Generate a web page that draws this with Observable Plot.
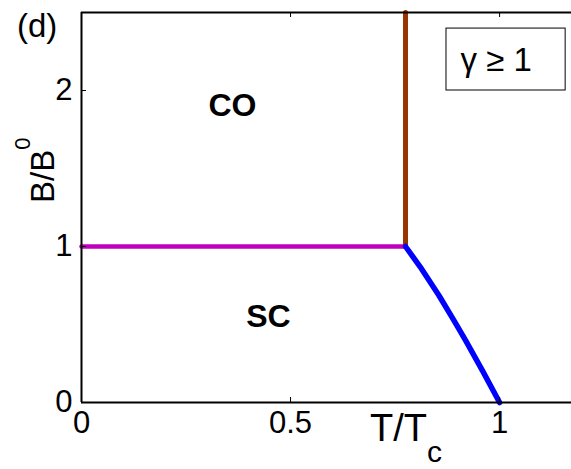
<!DOCTYPE html>
<html>
<head>
<meta charset="utf-8">
<script src="https://cdn.jsdelivr.net/npm/d3@7"></script>
<script src="https://cdn.jsdelivr.net/npm/@observablehq/plot@0.6"></script>
<style>
  html, body { margin: 0; padding: 0; background: #fff; }
  svg { display: block; }
</style>
</head>
<body>
<div id="chart"></div>
<script>
// ---- data ----
const xTicks = [0, 0.5, 1];
const xTickLabels = ["0", "0.5", "1"];
const yTicks = [0, 1, 2];
const yTickLabels = ["0", "1", "2"];

// CO/SC boundary (horizontal, B/B0 = 1) up to the triple point
const coScT = [0, 0.775];
const coScB = [1, 1];

// CO / normal boundary (vertical)
const coNormalT = [0.775, 0.775];
const coNormalB = [1, 2.5];

// SC / normal boundary
const scNormalT = [0.775, 0.81, 0.855, 0.89, 0.919, 0.96, 1.0];
const scNormalB = [1, 0.87, 0.686, 0.53, 0.397, 0.2, 0];

// region labels
const regionNames = ["CO", "SC"];
const regionT = [0.361, 0.447];
const regionB = [1.9, 0.55];

// legend box
const legendText = ["\u03b3 \u2265 1"];
const legendT = [0.992];
const legendB = [2.19];
const legendBoxT = [0.873, 1.158];
const legendBoxB = [2.0, 2.397];

// ---- build ----
const line = (xs, ys) => xs.map((x, i) => ({x, y: ys[i]}));
const regions = regionNames.map((n, i) => ({n, x: regionT[i], y: regionB[i]}));
const legend = legendText.map((t, i) => ({t, x: legendT[i], y: legendB[i]}));
const box = [{x1: legendBoxT[0], x2: legendBoxT[1], y1: legendBoxB[0], y2: legendBoxB[1]}];

const W = 571, H = 469, ML = 81, MR = 0, MT = 12, MB = 67;
const innerW = W - ML - MR, innerH = H - MT - MB;
const font = "'Liberation Sans', Arial, Helvetica, sans-serif";

const chart = Plot.plot({
  width: W, height: H,
  marginLeft: ML, marginRight: MR, marginTop: MT, marginBottom: MB,
  x: {domain: [0, 1.172], axis: null},
  y: {domain: [0, 2.5], axis: null},
  style: {fontFamily: font, background: "white", color: "black", overflow: "visible"},
  marks: [
    // phase boundaries
    Plot.line(line(coScT, coScB), {x: "x", y: "y", stroke: "#bf00bf", strokeWidth: 4.5}),
    Plot.line(line(coNormalT, coNormalB), {x: "x", y: "y", stroke: "#993300", strokeWidth: 5}),
    Plot.line(line(scNormalT, scNormalB), {x: "x", y: "y", stroke: "#0000ff", strokeWidth: 5.5, strokeLinejoin: "round"}),
    // axes frame (left, bottom, top)
    Plot.ruleX([0], {stroke: "black", strokeWidth: 2}),
    Plot.ruleY([0], {stroke: "black", strokeWidth: 2}),
    Plot.ruleY([2.5], {stroke: "black", strokeWidth: 2}),
    // inward ticks
    Plot.ruleX(xTicks, {stroke: "black", strokeWidth: 1, insetTop: innerH - 5}),
    Plot.ruleX(xTicks, {stroke: "black", strokeWidth: 1, insetBottom: innerH - 5}),
    Plot.ruleY(yTicks, {stroke: "black", strokeWidth: 1, insetRight: innerW - 5}),
    // tick labels
    Plot.text(xTicks, {x: d => d, text: (d, i) => xTickLabels[i], frameAnchor: "bottom",
      dy: 30, fontSize: 31, fill: "black"}),
    Plot.text(yTicks, {y: d => d, text: (d, i) => yTickLabels[i], frameAnchor: "left",
      textAnchor: "end", dx: -9, fontSize: 31, fill: "black"}),
    // region labels
    Plot.text(regions, {x: "x", y: "y", text: "n", fontSize: 32, fontWeight: "bold", fill: "black"}),
    // legend box
    Plot.rect(box, {x1: "x1", x2: "x2", y1: "y1", y2: "y2", fill: "white", stroke: "black", strokeWidth: 1}),
    Plot.text(legend, {x: "x", y: "y", text: "t", fontSize: 33, fill: "black"})
  ]
});

document.getElementById("chart").appendChild(chart);

// axis titles with sub/superscripts, panel label
const svg = d3.select(chart);
const xl = svg.append("text")
  .attr("x", 370).attr("y", 441).attr("text-anchor", "start")
  .attr("font-family", font).attr("font-size", 38).attr("fill", "black");
xl.append("tspan").text("T/T");
xl.append("tspan").attr("font-size", 30).attr("dy", 21).text("c");

const yl = svg.append("text")
  .attr("transform", "translate(54,203) rotate(-90)")
  .attr("text-anchor", "start")
  .attr("font-family", font).attr("font-size", 33).attr("fill", "black");
yl.append("tspan").text("B/B");
yl.append("tspan").attr("font-size", 22).attr("dy", -24).text("0");

svg.append("text")
  .attr("x", 17).attr("y", 37).attr("text-anchor", "start")
  .attr("font-family", font).attr("font-size", 33).attr("fill", "black")
  .text("(d)");
</script>
</body>
</html>
